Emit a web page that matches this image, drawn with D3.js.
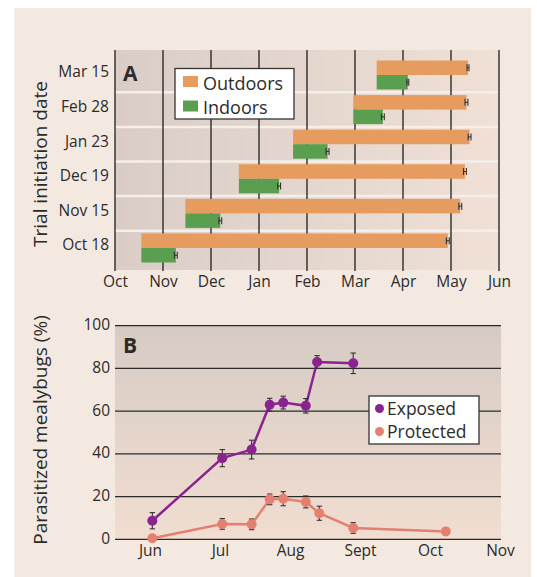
<!DOCTYPE html>
<html>
<head>
<meta charset="utf-8">
<script src="https://cdn.jsdelivr.net/npm/d3@7"></script>
<style>
  body { margin: 0; background: #fff; }
  svg { display: block; font-family: "Open Sans", "Noto Sans", sans-serif; }
  text { fill: #2b2b2b; }
</style>
</head>
<body>
<svg id="chart" width="537" height="577"></svg>
<script>
// ---- panel A data ----
var trialDates = ["Oct 18", "Nov 15", "Dec 19", "Jan 23", "Feb 28", "Mar 15"]
var outdoorEnd = ["Apr 29", "May 7", "May 10", "May 13", "May 11", "May 12"]
var indoorEnd = ["Nov 9", "Dec 7", "Jan 14", "Feb 13", "Mar 19", "Apr 4"]
var outdoorErr = [0.03, 0.03, 0.03, 0.03, 0.03, 0.02]
var indoorErr = [0.03, 0.03, 0.03, 0.03, 0.03, 0.02]
var monthsA = ["Oct", "Nov", "Dec", "Jan", "Feb", "Mar", "Apr", "May", "Jun"]

// ---- panel B data ----
var monthsB = ["Jun", "Jul", "Aug", "Sept", "Oct", "Nov"]
var exposedDates = ["Jun 2", "Jul 2", "Jul 15", "Jul 23", "Jul 29", "Aug 8", "Aug 13", "Aug 29"]
var exposedVals = [8.7, 38, 42, 63, 64, 62.5, 83, 82.4]
var exposedErr = [3.8, 4, 4.4, 3, 3, 3.4, 3, 4.8]
var protectedDates = ["Jun 2", "Jul 2", "Jul 15", "Jul 23", "Jul 29", "Aug 8", "Aug 14", "Aug 29", "Oct 8"]
var protectedVals = [0.5, 7.2, 7, 18.7, 19, 17.5, 12.2, 5.3, 3.7]
var protectedErr = [0, 2.5, 2.5, 2.5, 3.3, 2.8, 3.3, 2.5, 0]
var yTicksB = [0, 20, 40, 60, 80, 100]

var svg = d3.select("#chart")
var orange = "#e69b5f", green = "#5a9f4f", purple = "#8a2390", salmon = "#e3806f"
var monthDays = {Jan: 31, Feb: 28, Mar: 31, Apr: 30, May: 31, Jun: 30, Jul: 31, Aug: 31, Sept: 30, Sep: 30, Oct: 31, Nov: 30, Dec: 31}
var tickFont = 15.5, legFont = 18, titleFont = 19

// turn "Feb 28" into months since the first month of a list
function monthPos(str, months) {
    var parts = str.split(" ")
    var m = parts[0]
    var idx = months.indexOf(m)
    if (idx < 0 && m == "Sep") idx = months.indexOf("Sept")
    return idx + (+parts[1] - 1) / monthDays[m]
}

// background panel
svg.append("rect").attr("x", 14).attr("y", 8).attr("width", 517).attr("height", 569).attr("fill", "#f4e9e1")

var defs = svg.append("defs")
var gA = defs.append("linearGradient").attr("id", "gradA").attr("x1", 0).attr("x2", 1).attr("y1", 0).attr("y2", 0)
gA.append("stop").attr("offset", 0).attr("stop-color", "#d9cdc6")
gA.append("stop").attr("offset", 1).attr("stop-color", "#f0e0d6")
var gB = defs.append("linearGradient").attr("id", "gradB").attr("x1", 0).attr("x2", 0).attr("y1", 0).attr("y2", 1)
gB.append("stop").attr("offset", 0).attr("stop-color", "#d6cbc4")
gB.append("stop").attr("offset", 1).attr("stop-color", "#f1ddd1")

// ================= Panel A =================
var xA = d3.scaleLinear().domain([0, 8]).range([115, 499])
var yA = d3.scalePoint().domain(trialDates).range([248, 75])
var rowStep = yA.step()
var barH = 14.5

svg.append("rect").attr("x", 115).attr("y", 50).attr("width", 384).attr("height", 220).attr("fill", "url(#gradA)")

// white separators between rows
svg.append("g").selectAll("line")
    .data(trialDates.slice(0, -1))
    .enter()
    .append("line")
    .attr("x1", 115).attr("x2", 499)
    .attr("y1", function(d) { return yA(d) - rowStep / 2 })
    .attr("y2", function(d) { return yA(d) - rowStep / 2 })
    .attr("stroke", "#f6eee8").attr("stroke-width", 2.5)

// month gridlines
svg.append("g").selectAll("line")
    .data(monthsA)
    .enter()
    .append("line")
    .attr("x1", function(d, i) { return xA(i) }).attr("x2", function(d, i) { return xA(i) })
    .attr("y1", 50).attr("y2", 271)
    .attr("stroke", "#1e1e1e").attr("stroke-width", 1.3)

// month labels
var xAxisA = d3.axisBottom(xA).tickValues(d3.range(monthsA.length)).tickFormat(function(d) { return monthsA[d] }).tickSize(0).tickPadding(0)
var axA = svg.append("g").attr("transform", "translate(0,276)").call(xAxisA)
axA.select(".domain").remove()
axA.selectAll("text").attr("font-size", tickFont).attr("font-family", "Open Sans").attr("fill", "#2b2b2b")

// row labels
var yAxisA = d3.axisLeft(yA).tickSize(0).tickPadding(0)
var ayA = svg.append("g").attr("transform", "translate(109,-3)").call(yAxisA)
ayA.select(".domain").remove()
ayA.selectAll("text").attr("font-size", tickFont).attr("font-family", "Open Sans").attr("fill", "#2b2b2b")

// outdoor bars
var bars = svg.append("g")
bars.selectAll(".out")
    .data(trialDates)
    .enter()
    .append("rect")
    .attr("class", "out")
    .attr("x", function(d) { return xA(monthPos(d, monthsA)) })
    .attr("y", function(d) { return yA(d) - barH })
    .attr("width", function(d, i) { return xA(monthPos(outdoorEnd[i], monthsA)) - xA(monthPos(d, monthsA)) })
    .attr("height", barH)
    .attr("fill", orange)
bars.selectAll(".in")
    .data(trialDates)
    .enter()
    .append("rect")
    .attr("class", "in")
    .attr("x", function(d) { return xA(monthPos(d, monthsA)) })
    .attr("y", function(d) { return yA(d) })
    .attr("width", function(d, i) { return xA(monthPos(indoorEnd[i], monthsA)) - xA(monthPos(d, monthsA)) })
    .attr("height", barH)
    .attr("fill", green)

// small error bars at the bar ends
function hErr(g, ends, errs, dy) {
    ends.forEach(function(e, i) {
        var c = monthPos(e, monthsA)
        var yc = yA(trialDates[i]) + dy
        var x0 = xA(c - errs[i]), x1 = xA(c + errs[i])
        g.append("line").attr("x1", x0).attr("x2", x1).attr("y1", yc).attr("y2", yc)
        g.append("line").attr("x1", x0).attr("x2", x0).attr("y1", yc - 3.5).attr("y2", yc + 3.5)
        g.append("line").attr("x1", x1).attr("x2", x1).attr("y1", yc - 3.5).attr("y2", yc + 3.5)
    })
}
var errA = svg.append("g").attr("stroke", "#333").attr("stroke-width", 1.1)
hErr(errA, outdoorEnd, outdoorErr, -barH / 2)
hErr(errA, indoorEnd, indoorErr, barH / 2)

svg.append("text").attr("x", 123).attr("y", 81).attr("font-size", 21).attr("font-weight", "bold")
    .attr("font-family", "Open Sans").text("A")

// legend A
var legA = svg.append("g")
legA.append("rect").attr("x", 175).attr("y", 68.5).attr("width", 119).attr("height", 50.5)
    .attr("fill", "#fff").attr("stroke", "#333").attr("stroke-width", 1.3)
legA.append("rect").attr("x", 183).attr("y", 76).attr("width", 15).attr("height", 11).attr("fill", orange)
legA.append("rect").attr("x", 183).attr("y", 100.5).attr("width", 15).attr("height", 11).attr("fill", green)
legA.append("text").attr("x", 203).attr("y", 89.5).attr("font-size", legFont).text("Outdoors")
legA.append("text").attr("x", 203).attr("y", 113.5).attr("font-size", legFont).text("Indoors")

svg.append("text").attr("transform", "translate(47,164) rotate(-90)").attr("text-anchor", "middle")
    .attr("font-size", titleFont).text("Trial initiation date")

// ================= Panel B =================
var xB = d3.scaleLinear().domain([0, 5]).range([150, 500])
var yB = d3.scaleLinear().domain([0, 100]).range([539.3, 325.7])

svg.append("rect").attr("x", 115).attr("y", 325.7).attr("width", 386).attr("height", 213.6).attr("fill", "url(#gradB)")

svg.append("g").selectAll("line")
    .data(yTicksB)
    .enter()
    .append("line")
    .attr("x1", 115).attr("x2", 501)
    .attr("y1", function(d) { return yB(d) }).attr("y2", function(d) { return yB(d) })
    .attr("stroke", "#2a2a2a").attr("stroke-width", 1.3)

var yAxisB = d3.axisLeft(yB).tickValues(yTicksB).tickSize(0).tickPadding(0)
var ayB = svg.append("g").attr("transform", "translate(110,-1)").call(yAxisB)
ayB.select(".domain").remove()
ayB.selectAll("text").attr("font-size", tickFont).attr("font-family", "Open Sans").attr("fill", "#2b2b2b")

var xAxisB = d3.axisBottom(xB).tickValues(d3.range(monthsB.length)).tickFormat(function(d) { return monthsB[d] }).tickSize(0).tickPadding(0)
var axB = svg.append("g").attr("transform", "translate(0,545)").call(xAxisB)
axB.select(".domain").remove()
axB.selectAll("text").attr("font-size", tickFont).attr("font-family", "Open Sans").attr("fill", "#2b2b2b")

function series(dates, vals, errs, color) {
    var pts = dates.map(function(d, i) { return {x: xB(monthPos(d, monthsB)), v: vals[i], e: errs[i]} })
    var g = svg.append("g")
    g.append("path")
        .datum(pts)
        .attr("fill", "none").attr("stroke", color).attr("stroke-width", 2.5)
        .attr("d", d3.line().x(function(p) { return p.x }).y(function(p) { return yB(p.v) }))
    var eg = g.append("g").attr("stroke", "#333").attr("stroke-width", 1.1)
    pts.filter(function(p) { return p.e > 0 }).forEach(function(p) {
        var y0 = yB(p.v - p.e), y1 = yB(p.v + p.e)
        eg.append("line").attr("x1", p.x).attr("x2", p.x).attr("y1", y0).attr("y2", y1)
        eg.append("line").attr("x1", p.x - 2.7).attr("x2", p.x + 2.7).attr("y1", y0).attr("y2", y0)
        eg.append("line").attr("x1", p.x - 2.7).attr("x2", p.x + 2.7).attr("y1", y1).attr("y2", y1)
    })
    g.selectAll("circle")
        .data(pts)
        .enter()
        .append("circle")
        .attr("cx", function(p) { return p.x })
        .attr("cy", function(p) { return yB(p.v) })
        .attr("r", 5)
        .attr("fill", color)
}
series(protectedDates, protectedVals, protectedErr, salmon)
series(exposedDates, exposedVals, exposedErr, purple)

svg.append("text").attr("x", 123).attr("y", 353).attr("font-size", 21).attr("font-weight", "bold")
    .attr("font-family", "Open Sans").text("B")

// legend B
var legB = svg.append("g")
legB.append("rect").attr("x", 369).attr("y", 396).attr("width", 110).attr("height", 48)
    .attr("fill", "#fff").attr("stroke", "#333").attr("stroke-width", 1.3)
legB.append("circle").attr("cx", 379.5).attr("cy", 408.5).attr("r", 4.5).attr("fill", purple)
legB.append("circle").attr("cx", 379.5).attr("cy", 431.5).attr("r", 4.5).attr("fill", salmon)
legB.append("text").attr("x", 387).attr("y", 414.5).attr("font-size", 17.5).text("Exposed")
legB.append("text").attr("x", 387).attr("y", 437.5).attr("font-size", 17.5).text("Protected")

svg.append("text").attr("transform", "translate(47,430) rotate(-90)").attr("text-anchor", "middle")
    .attr("font-size", titleFont).text("Parasitized mealybugs (%)")
</script>
</body>
</html>
